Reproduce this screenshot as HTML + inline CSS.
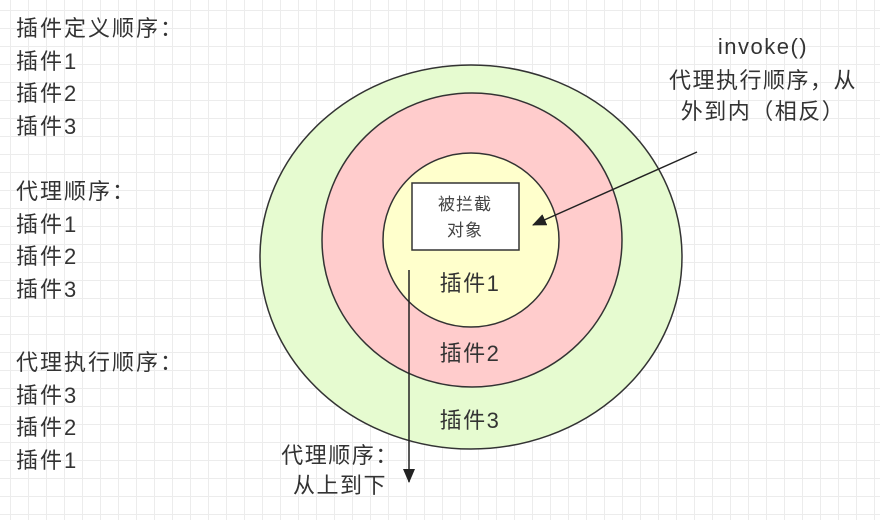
<!DOCTYPE html>
<html><head><meta charset="utf-8"><style>
html,body{margin:0;padding:0}
body{width:880px;height:520px;overflow:hidden;position:relative;background:#fff;
background-image:linear-gradient(#ececec 1px,transparent 1px),linear-gradient(90deg,#ececec 1px,transparent 1px);
background-size:18px 18px;background-position:10px 10px;
font-family:"Liberation Sans","Noto Sans CJK SC",sans-serif;color:#333}
.t{position:absolute;font-size:22px;letter-spacing:2px;line-height:32.5px;white-space:nowrap}
</style></head><body>
<div class="t" style="left:16px;top:13px">插件定义顺序：<br>插件1<br>插件2<br>插件3</div>
<div class="t" style="left:16px;top:176px">代理顺序：<br>插件1<br>插件2<br>插件3</div>
<div class="t" style="left:16px;top:347px">代理执行顺序：<br>插件3<br>插件2<br>插件1</div>
<svg width="880" height="520" style="position:absolute;left:0;top:0">
<defs><marker id="a" markerWidth="14" markerHeight="12" refX="13" refY="6" orient="auto" markerUnits="userSpaceOnUse"><path d="M0,0 L14,6 L0,12 z" fill="#222"/></marker></defs>
<ellipse cx="471" cy="257" rx="211" ry="192" fill="#e6fbd0" stroke="#333" stroke-width="1.5"/>
<ellipse cx="472" cy="240" rx="150" ry="147" fill="#ffcccc" stroke="#333" stroke-width="1.5"/>
<ellipse cx="471" cy="240" rx="88" ry="87" fill="#ffffcc" stroke="#333" stroke-width="1.5"/>
<rect x="412" y="183" width="107" height="67" fill="#fff" stroke="#333" stroke-width="1.5"/>
<text x="465" y="210" font-size="17" text-anchor="middle" fill="#444" letter-spacing="1" font-family="Liberation Sans,Noto Sans CJK SC,sans-serif">被拦截</text>
<text x="465" y="236" font-size="17" text-anchor="middle" fill="#444" letter-spacing="1" font-family="Liberation Sans,Noto Sans CJK SC,sans-serif">对象</text>
<g font-size="22" text-anchor="middle" fill="#333" letter-spacing="1.5" font-family="Liberation Sans,Noto Sans CJK SC,sans-serif">
<text x="470" y="291">插件1</text>
<text x="470" y="361">插件2</text>
<text x="470" y="428">插件3</text>
<text x="340" y="463">代理顺序：</text>
<text x="340" y="493">从上到下</text>
<text x="763" y="54">invoke()</text>
<text x="763" y="88">代理执行顺序，从</text>
<text x="763" y="119">外到内（相反）</text>
</g>
<line x1="409" y1="270" x2="409" y2="482" stroke="#222" stroke-width="1.5" marker-end="url(#a)"/>
<line x1="697" y1="152" x2="533" y2="225" stroke="#222" stroke-width="1.5" marker-end="url(#a)"/>
</svg>
</body></html>
